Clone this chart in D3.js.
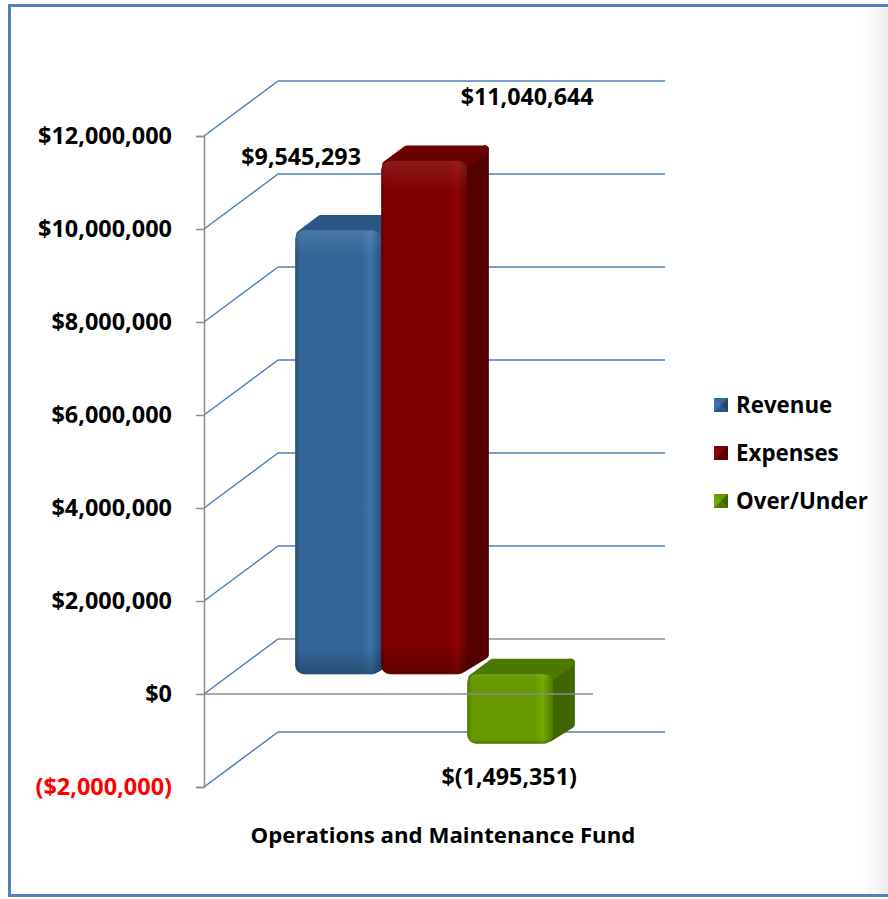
<!DOCTYPE html>
<html><head><meta charset="utf-8">
<script src="https://cdn.jsdelivr.net/npm/d3@7"></script>
<style>html,body{margin:0;padding:0;background:#fff;overflow:hidden}</style>
</head><body><svg id="c" width="888" height="899"></svg>
<script>
// ---- data ----
const categories = ["Operations and Maintenance Fund"];
const seriesNames = ["Revenue", "Expenses", "Over/Under"];
const seriesValues = [9545293, 11040644, -1495351];
const dataLabels = ["$9,545,293", "$11,040,644", "$(1,495,351)"];
const tickValues = [-2000000, 0, 2000000, 4000000, 6000000, 8000000, 10000000, 12000000];
const tickLabels = ["($2,000,000)", "$0", "$2,000,000", "$4,000,000", "$6,000,000", "$8,000,000", "$10,000,000", "$12,000,000"];

// ---- layout / style ----
const FONT = "'Open Sans', Lato, sans-serif";
const floorL = 204, floorR = 591, DX = 74, DY = 55;
const dFront = 0.36, dBack = 0.64;
const colors = [
  {front:"#346699", light:"#3d74ab", side:"#22466d", top:"#2b5683", dark:"#284f78"},
  {front:"#800000", light:"#8e0404", side:"#550000", top:"#690000", dark:"#640000"},
  {front:"#669900", light:"#72aa05", side:"#3f6600", top:"#4c7800", dark:"#507a00"}
];
const labelOffsets = [[-37,-73],[103,-64],[-1,33]];

const svg = d3.select("#c");
const defs = svg.append("defs");

// size helper: fit a text's width to a target
function fitSize(txt, target){
  const t = svg.append("text").attr("font-family",FONT).attr("font-weight","bold").attr("font-size",20).text(txt);
  const w = t.node().getComputedTextLength(); t.remove();
  return 20 * target / w;
}
const axisSize = fitSize("$12,000,000", 134);
const labelSize = fitSize("$11,040,644", 133);
const legendSize = fitSize("Over/Under", 132);
const titleSize = fitSize(categories[0], 385);

// frame
const sh = defs.append("linearGradient").attr("id","rshade").attr("x1","0").attr("x2","1");
sh.append("stop").attr("offset","0").attr("stop-color","#fff").attr("stop-opacity",0);
sh.append("stop").attr("offset","1").attr("stop-color","#ebebeb").attr("stop-opacity",1);
svg.append("rect").attr("x",0).attr("y",0).attr("width",888).attr("height",899).attr("fill","#fff");
svg.append("rect").attr("x",852).attr("y",8).attr("width",36).attr("height",887).attr("fill","url(#rshade)");
svg.append("rect").attr("x",9.5).attr("y",5.5).attr("width",900).attr("height",890)
  .attr("fill","none").attr("stroke","#4f81bd").attr("stroke-width",3);

const y = d3.scaleLinear().domain([-2000000, 12000000]).range([787, 136]);
const x = d3.scaleBand().domain(seriesNames).range([floorL, floorR]).paddingInner(0).paddingOuter(0.75);

// back wall + left wall gridlines
const grid = svg.append("g");
tickValues.forEach(v => {
  const yy = y(v);
  grid.append("path")
    .attr("d", `M${floorL},${yy}L${floorL+DX},${yy-DY}`)
    .attr("stroke","#4a7ebb").attr("stroke-width",1.5).attr("fill","none");
  grid.append("path")
    .attr("d", `M${floorL+DX},${yy-DY}L${floorR+DX},${yy-DY}`)
    .attr("stroke", v === 0 ? "#8c8c8c" : "#4a7ebb").attr("stroke-width",1.5).attr("fill","none");
});

// axis
const axis = d3.axisLeft(y).tickValues(tickValues).tickSize(8).tickPadding(24)
  .tickFormat((d,i) => tickLabels[i]);
const ag = svg.append("g").attr("transform",`translate(${floorL},0)`).call(axis);
ag.select(".domain").attr("stroke","#8c8c8c").attr("stroke-width",1.5);
ag.selectAll(".tick line").attr("stroke","#8c8c8c").attr("stroke-width",1.5);
ag.selectAll(".tick text").attr("font-family",FONT).attr("font-weight","bold").attr("font-size",axisSize)
  .attr("fill", d => d < 0 ? "#ff0000" : "#000");

// bars
function P(xf, v, d, ox=0, oy=0){ return [xf + DX*d + ox, y(v) - DY*d + oy]; }
const pts = (arr) => "M" + arr.map(p=>p.join(",")).join("L") + "Z";
seriesNames.forEach((s,i) => {
  const v = seriesValues[i];
  const c = colors[i];
  const x0 = x(s), x1 = x(s) + x.bandwidth();
  const vt = Math.max(v,0), vb = Math.min(v,0);
  const g = svg.append("g");
  const gr = defs.append("linearGradient").attr("id","g"+i).attr("x1","0").attr("x2","1");
  gr.append("stop").attr("offset","0").attr("stop-color",c.dark);
  gr.append("stop").attr("offset","0.06").attr("stop-color",c.front);
  gr.append("stop").attr("offset","0.78").attr("stop-color",c.front);
  gr.append("stop").attr("offset","0.88").attr("stop-color",c.light);
  gr.append("stop").attr("offset","1").attr("stop-color",c.dark);
  const gv = defs.append("linearGradient").attr("id","v"+i).attr("x1","0").attr("x2","0").attr("y1","0").attr("y2","1");
  gv.append("stop").attr("offset","0").attr("stop-color","#fff").attr("stop-opacity",0.10);
  gv.append("stop").attr("offset","0.06").attr("stop-color","#fff").attr("stop-opacity",0);
  gv.append("stop").attr("offset","0.94").attr("stop-color","#000").attr("stop-opacity",0);
  gv.append("stop").attr("offset","1").attr("stop-color","#000").attr("stop-opacity",0.25);
  // side
  g.append("path").attr("d", pts([P(x1,vt,dFront,-4,4),P(x1,vt,dBack,-3,4),P(x1,vb,dBack,-3,-4),P(x1,vb,dFront,-4,-6)]))
    .attr("fill",c.side).attr("stroke",c.side).attr("stroke-width",8).attr("stroke-linejoin","round");
  // top
  g.append("path").attr("d", pts([P(x0,vt,dFront,5,4),P(x0,vt,dBack,5,4),P(x1,vt,dBack,-3,4),P(x1,vt,dFront,-4,4)]))
    .attr("fill",c.top).attr("stroke",c.top).attr("stroke-width",8).attr("stroke-linejoin","round");
  // front
  const f0 = P(x0,vt,dFront), f1 = P(x1,vb,dFront);
  const fw = f1[0]-f0[0], fh = f1[1]-f0[1];
  g.append("rect").attr("x",f0[0]).attr("y",f0[1]).attr("width",fw).attr("height",fh)
    .attr("rx",9).attr("fill",`url(#g${i})`);
  g.append("rect").attr("x",f0[0]).attr("y",f0[1]).attr("width",fw).attr("height",fh)
    .attr("rx",9).attr("fill",`url(#v${i})`);
  // label
  const anchorY = v >= 0 ? P(x0,vt,dFront)[1] : P(x0,vb,dFront)[1];
  const cx = (f0[0]+f1[0])/2;
  svg.append("text").attr("x",cx+labelOffsets[i][0]).attr("y",anchorY+labelOffsets[i][1])
    .attr("dy","0.35em").attr("text-anchor","middle")
    .attr("font-family",FONT).attr("font-weight","bold").attr("font-size",labelSize).attr("fill","#000")
    .text(dataLabels[i]);
});

// front zero line
svg.append("path").attr("d",`M${floorL},${y(0)}L${floorR+2},${y(0)}`)
  .attr("stroke","#8c8c8c").attr("stroke-width",1.5);

// category title
svg.append("text").attr("x",443).attr("y",835).attr("dy","0.35em").attr("text-anchor","middle")
  .attr("font-family",FONT).attr("font-weight","bold").attr("font-size",titleSize).text(categories[0]);

// legend
const lg = svg.append("g");
seriesNames.forEach((s,i) => {
  const cy = 405 + i*48;
  const c = colors[i];
  const sx = 714, sz = 14, sy = cy - 7;
  lg.append("rect").attr("x",sx).attr("y",sy).attr("width",sz).attr("height",sz).attr("fill",c.front);
  lg.append("path").attr("d",`M${sx},${sy}L${sx+sz/2},${sy+sz/2}L${sx},${sy+sz}Z`).attr("fill",c.light);
  lg.append("path").attr("d",`M${sx+sz},${sy}L${sx+sz/2},${sy+sz/2}L${sx+sz},${sy+sz}Z`).attr("fill",c.side);
  lg.append("path").attr("d",`M${sx},${sy+sz}L${sx+sz/2},${sy+sz/2}L${sx+sz},${sy+sz}Z`).attr("fill",c.top);
  lg.append("text").attr("x",736).attr("y",cy).attr("dy","0.35em")
    .attr("font-family",FONT).attr("font-weight","bold").attr("font-size",legendSize).text(s);
});
</script></body></html>
